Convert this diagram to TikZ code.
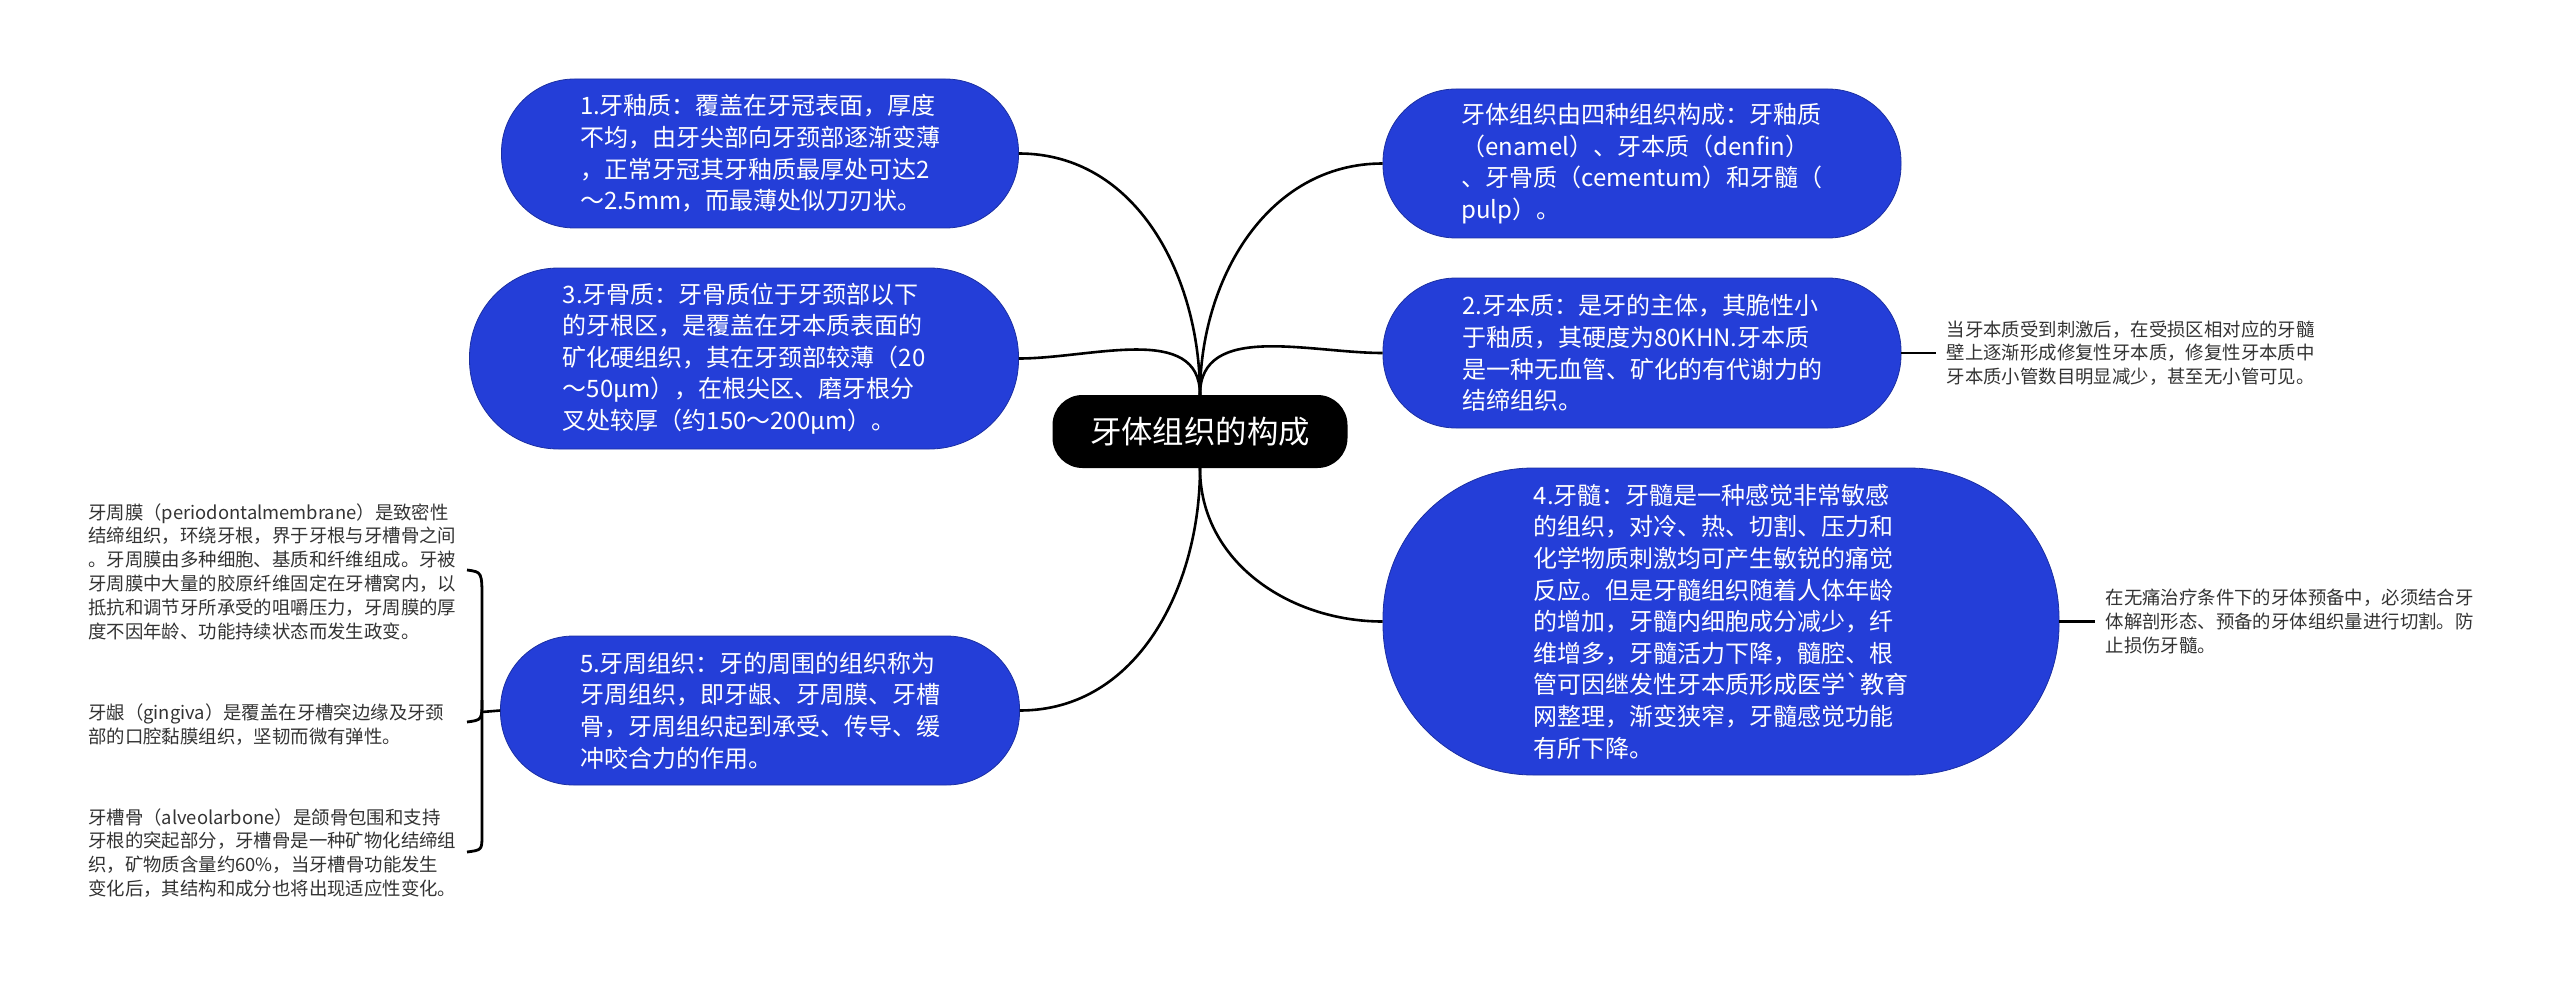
\documentclass[tikz,border=0pt]{standalone}
\usepackage{fontspec}
\setmainfont{Noto Sans CJK SC}
\usetikzlibrary{positioning,calc}
\definecolor{toothblue}{HTML}{243ED8}
\definecolor{notegray}{HTML}{333333}
\tikzset{topic/.style={rectangle, rounded corners=#1, fill=toothblue,
		draw=toothblue!75!black, line width=0.8pt, text=white, align=left,
		inner sep=0pt, font=\fontsize{24}{31.6}\selectfont}}
\tikzset{note/.style={align=left, inner sep=0pt, anchor=west, text=notegray,
		font=\fontsize{18.4}{23.8}\selectfont}}
\tikzset{branch/.style={line width=2.6pt, black}}

\begin{document}
\begin{tikzpicture}[x=1pt, y=-1pt]
			\useasboundingbox (0,0) rectangle (2560,987);
			% centre
			\node (root) [rectangle, rounded corners=30pt, fill=black, text=white,
			minimum width=295pt, minimum height=73pt, inner sep=0pt,
			font=\fontsize{31.4}{36}\selectfont] at (1200,431.5) {牙体组织的构成};
			% left topics
			\node (enamel) [topic=73pt, minimum width=517pt, minimum height=149pt] at (760,153.5)
			{1.牙釉质：覆盖在牙冠表面，厚度\\不均，由牙尖部向牙颈部逐渐变薄\\，正常牙冠其牙釉质最厚处可达2\\～2.5mm，而最薄处似刀刃状。};
			\node (cement) [topic=89pt, minimum width=549pt, minimum height=181pt] at (744,358.5)
			{3.牙骨质：牙骨质位于牙颈部以下\\的牙根区，是覆盖在牙本质表面的\\矿化硬组织，其在牙颈部较薄（20\\～50μm），在根尖区、磨牙根分\\叉处较厚（约150～200μm）。};
			\node (perio) [topic=73pt, minimum width=519pt, minimum height=149pt] at (760,710.5)
			{5.牙周组织：牙的周围的组织称为\\牙周组织，即牙龈、牙周膜、牙槽\\骨，牙周组织起到承受、传导、缓\\冲咬合力的作用。};
			% right topics
			\node (intro) [topic=73pt, minimum width=518pt, minimum height=149pt] at (1642,163.5)
			{牙体组织由四种组织构成：牙釉质\\（enamel）、牙本质（denfin）\\、牙骨质（cementum）和牙髓（\\pulp）。};
			\node (dentin) [topic=73pt, minimum width=518pt, minimum height=150pt] at (1642,353)
			{2.牙本质：是牙的主体，其脆性小\\于釉质，其硬度为80KHN.牙本质\\是一种无血管、矿化的有代谢力的\\结缔组织。};
			\node (pulp) [topic=150pt, minimum width=676pt, minimum height=307pt] at (1721,621.5)
			{4.牙髓：牙髓是一种感觉非常敏感\\的组织，对冷、热、切割、压力和\\化学物质刺激均可产生敏锐的痛觉\\反应。但是牙髓组织随着人体年龄\\的增加，牙髓内细胞成分减少，纤\\维增多，牙髓活力下降，髓腔、根\\管可因继发性牙本质形成医学\textasciigrave 教育\\网整理，渐变狭窄，牙髓感觉功能\\有所下降。};
			% notes
			\node (membrane) [note] at (88,571.5)
			{牙周膜（periodontalmembrane）是致密性\\结缔组织，环绕牙根，界于牙根与牙槽骨之间\\。牙周膜由多种细胞、基质和纤维组成。牙被\\牙周膜中大量的胶原纤维固定在牙槽窝内，以\\抵抗和调节牙所承受的咀嚼压力，牙周膜的厚\\度不因年龄、功能持续状态而发生政变。};
			\node (gingiva) [note] at (88,724.5)
			{牙龈（gingiva）是覆盖在牙槽突边缘及牙颈\\部的口腔黏膜组织，坚韧而微有弹性。};
			\node (alveolar) [note] at (88,853)
			{牙槽骨（alveolarbone）是颌骨包围和支持\\牙根的突起部分，牙槽骨是一种矿物化结缔组\\织，矿物质含量约60\%，当牙槽骨功能发生\\变化后，其结构和成分也将出现适应性变化。};
			\node (dentnote) [note, right=45pt of dentin] {当牙本质受到刺激后，在受损区相对应的牙髓\\壁上逐渐形成修复性牙本质，修复性牙本质中\\牙本质小管数目明显减少，甚至无小管可见。};
			\node (pulpnote) [note, right=46pt of pulp] {在无痛治疗条件下的牙体预备中，必须结合牙\\体解剖形态、预备的牙体组织量进行切割。防\\止损伤牙髓。};
			
			% branches
			\draw[branch] (root.north) to[out=90, in=0] (enamel.east);
			\draw[branch] (root.north) to[out=90, in=0] (cement.east);
			\draw[branch] (root.north) to[out=90, in=180] (intro.west);
			\draw[branch] (root.north) to[out=90, in=180] (dentin.west);
			\draw[branch] (root.south) to[out=-90, in=0] (perio.east);
			\draw[branch] (root.south) to[out=-90, in=180] (pulp.west);
			\draw[branch, shorten >=10pt] (dentin.east) -- (dentnote.west);
			\draw[branch, shorten >=10pt] (pulp.east) -- (pulpnote.west);
			% brace
			\coordinate (bracetip) at (482,712);
			\draw[branch, line width=2.8pt] (467,570) .. controls (482,572) .. (482,600) -- (482,835) .. controls (482,850) .. (467,852);
			\draw[branch, line width=2.8pt] (482,700) .. controls (482,720) .. (467,722);
			\draw[branch] (bracetip) -- (perio.west);
			
\end{tikzpicture}
\end{document}
